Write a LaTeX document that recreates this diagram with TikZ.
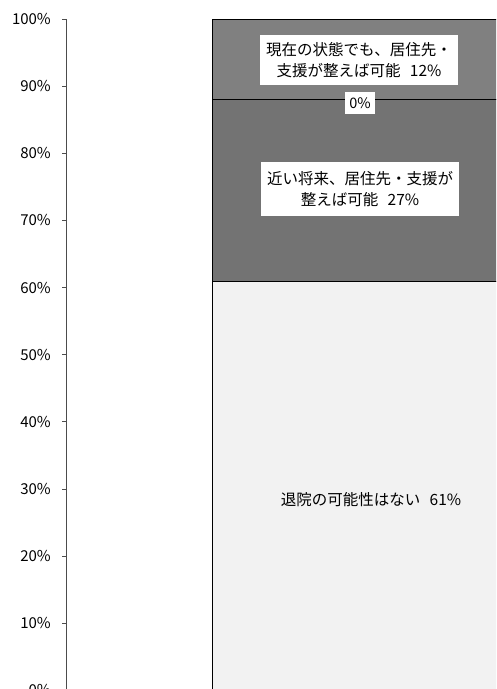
\documentclass[tikz,border=0pt]{standalone}
\usepackage{fontspec}
\setmainfont{Noto Sans CJK JP}
\begin{document}
\begin{tikzpicture}[x=1pt,y=-1pt,
  ticklbl/.style={anchor=east,inner sep=0pt,font=\fontsize{15}{16}\selectfont},
  datalbl/.style={fill=white,align=center,inner sep=3pt,font=\fontsize{15.5}{21.5}\selectfont},
  segtop/.style={fill=black!50,draw=black,line width=0.8pt},
  segmid/.style={fill=black!55,draw=black,line width=0.8pt},
  segbot/.style={fill=black!5,draw=black,line width=0.8pt},
  axisline/.style={draw=black!70,line width=0.7pt}]
\clip (0,0) rectangle (496,689);
\fill[white] (0,0) rectangle (496,689);
% bar segments
\path[segbot] (212,281) rectangle (510,700);
\path[segmid] (212,99) rectangle (510,281);
\path[segtop] (212,19) rectangle (510,99);
% axis
\coordinate (axtop) at (66,19);
\coordinate (axbot) at (66,700);
\draw[axisline] (axtop) -- (axbot);
\foreach \p [count=\i] in {100,90,80,70,60,50,40,30,20,10,0}{
  \pgfmathsetmacro{\yy}{19+(100-\p)*6.714}
  \coordinate (t\i) at (66,\yy);
  \coordinate (u\i) at (62,\yy);
  \draw[axisline] (u\i) -- (t\i);
  \node[ticklbl] (l\i) at (51,\yy) {\p\%};
}
% labels
\node[datalbl,minimum width=198pt,minimum height=50pt] (a) at (359,60) {現在の状態でも、居住先・\\支援が整えば可能\hspace{0.6em}12\%};
\node[datalbl,minimum width=30pt,minimum height=22pt,font=\fontsize{14.5}{15}\selectfont] (b) at (360,103) {0\%};
\node[datalbl,minimum width=198pt,minimum height=54pt] (c) at (360,189) {近い将来、居住先・支援が\\整えば可能\hspace{0.6em}27\%};
\node[align=center,inner sep=0pt,font=\fontsize{15.5}{21.5}\selectfont] (d) at (371,500) {退院の可能性はない\hspace{0.6em}61\%};
\end{tikzpicture}
\end{document}
